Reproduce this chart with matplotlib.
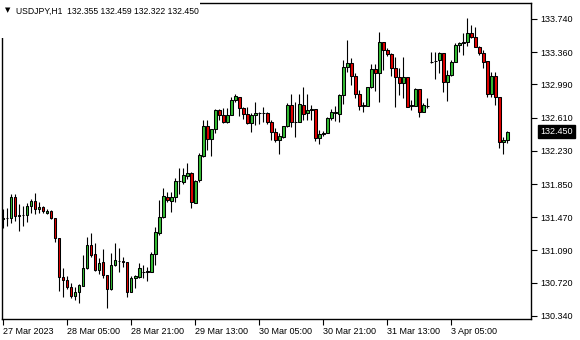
import matplotlib.pyplot as plt
import matplotlib.transforms as mtransforms
from matplotlib.patches import Rectangle
import numpy as np

# USDJPY H1 candles, 27 Mar 2023 13:00 .. 3 Apr 2023
opens = [131.455, 131.465, 131.461, 131.702, 131.490, 131.496, 131.496, 131.599, 131.656, 131.564,
         131.587, 131.519, 131.541, 131.461, 131.232, 130.786, 130.752, 130.671, 130.568, 130.614,
         130.683, 130.889, 131.152, 131.049, 130.866, 130.958, 130.809, 130.648, 130.923, 130.969,
         130.969, 130.958, 130.614, 130.774, 130.786, 130.843, 130.843, 130.843, 131.049, 131.290,
         131.473, 131.702, 131.656, 131.702, 131.885, 131.873, 131.942, 131.976, 131.633, 131.896,
         132.171, 132.514, 132.366, 132.480, 132.698, 132.640, 132.560, 132.640, 132.812, 132.847,
         132.721, 132.652, 132.549, 132.640, 132.663, 132.660, 132.663, 132.560, 132.446, 132.354,
         132.389, 132.514, 132.755, 132.560, 132.560, 132.755, 132.663, 132.698, 132.709, 132.377,
         132.423, 132.434, 132.606, 132.663, 132.652, 132.869, 133.190, 133.236, 133.087, 132.881,
         132.755, 132.744, 132.961, 133.167, 133.121, 133.476, 133.385, 133.339, 133.179, 133.075,
         133.007, 133.075, 132.744, 132.744, 132.938, 132.675, 132.744, 133.247, 133.259, 133.270,
         133.350, 133.018, 133.098, 133.247, 133.442, 133.465, 133.476, 133.579, 133.533, 133.419,
         133.350, 133.259, 132.881, 133.087, 132.847, 132.331, 132.355]
highs = [131.564, 131.576, 131.736, 131.736, 131.622, 131.599, 131.633, 131.679, 131.748, 131.645,
         131.599, 131.564, 131.553, 131.461, 131.232, 130.889, 130.797, 130.717, 130.671, 130.706,
         131.038, 131.244, 131.290, 131.175, 131.003, 131.106, 130.809, 131.061, 131.175, 131.118,
         131.015, 130.958, 130.797, 130.809, 130.946, 130.923, 130.900, 131.072, 131.358, 131.667,
         131.805, 131.759, 131.759, 131.919, 132.034, 132.034, 132.091, 131.988, 131.896, 132.205,
         132.583, 132.583, 132.480, 132.709, 132.709, 132.721, 132.721, 132.847, 132.881, 132.847,
         132.732, 132.732, 132.663, 132.789, 132.675, 132.732, 132.675, 132.583, 132.492, 132.434,
         132.514, 132.778, 132.881, 132.789, 132.881, 132.961, 132.881, 132.755, 132.709, 132.469,
         132.457, 132.618, 132.709, 132.744, 132.881, 133.270, 133.499, 133.293, 133.121, 132.927,
         132.789, 132.961, 133.224, 133.224, 133.591, 133.476, 133.407, 133.350, 133.304, 133.179,
         133.304, 133.075, 132.812, 132.950, 132.938, 132.778, 132.835, 133.362, 133.362, 133.362,
         133.350, 133.156, 133.270, 133.465, 133.476, 133.579, 133.751, 133.671, 133.648, 133.430,
         133.385, 133.259, 133.133, 133.133, 132.847, 132.389, 132.459]
lows = [131.347, 131.370, 131.404, 131.427, 131.312, 131.370, 131.416, 131.519, 131.507, 131.519,
        131.519, 131.507, 131.450, 131.187, 130.626, 130.557, 130.648, 130.546, 130.523, 130.488,
        130.683, 130.877, 131.015, 130.854, 130.820, 130.774, 130.431, 130.637, 130.912, 130.843,
        130.900, 130.557, 130.614, 130.660, 130.774, 130.774, 130.740, 130.843, 130.923, 131.267,
        131.461, 131.645, 131.530, 131.645, 131.736, 131.851, 131.908, 131.576, 131.633, 131.873,
        132.160, 132.240, 132.171, 132.434, 132.583, 132.549, 132.549, 132.640, 132.789, 132.629,
        132.595, 132.537, 132.446, 132.526, 132.537, 132.560, 132.537, 132.354, 132.331, 132.194,
        132.377, 132.503, 132.503, 132.389, 132.560, 132.583, 132.583, 132.583, 132.343, 132.309,
        132.400, 132.434, 132.583, 132.572, 132.560, 132.766, 133.133, 132.984, 132.835, 132.698,
        132.675, 132.744, 132.950, 132.915, 132.789, 133.156, 133.316, 133.087, 132.732, 132.869,
        132.835, 132.732, 132.698, 132.744, 132.618, 132.675, 132.721, 133.236, 133.053, 133.121,
        132.904, 132.801, 133.087, 133.247, 133.362, 133.327, 133.430, 133.522, 133.419, 133.327,
        133.179, 132.847, 132.847, 132.755, 132.263, 132.194, 132.322]
closes = [131.465, 131.458, 131.702, 131.484, 131.496, 131.499, 131.599, 131.656, 131.564, 131.587,
          131.541, 131.541, 131.461, 131.232, 130.786, 130.752, 130.671, 130.568, 130.614, 130.694,
          130.889, 131.152, 131.038, 130.866, 130.946, 130.809, 130.648, 130.923, 130.981, 130.972,
          130.958, 130.614, 130.774, 130.797, 130.889, 130.840, 130.854, 131.049, 131.301, 131.473,
          131.713, 131.667, 131.702, 131.885, 131.882, 131.954, 131.976, 131.645, 131.885, 132.183,
          132.514, 132.366, 132.480, 132.698, 132.640, 132.560, 132.640, 132.812, 132.858, 132.721,
          132.652, 132.549, 132.640, 132.663, 132.660, 132.663, 132.560, 132.446, 132.354, 132.400,
          132.514, 132.755, 132.560, 132.563, 132.766, 132.652, 132.698, 132.709, 132.377, 132.423,
          132.434, 132.606, 132.675, 132.675, 132.869, 133.190, 133.236, 133.087, 132.881, 132.744,
          132.744, 132.961, 133.167, 133.121, 133.476, 133.385, 133.339, 133.179, 133.075, 133.007,
          133.075, 132.732, 132.755, 132.938, 132.675, 132.755, 132.747, 133.250, 133.256, 133.350,
          133.018, 133.098, 133.247, 133.442, 133.465, 133.476, 133.579, 133.533, 133.419, 133.350,
          133.247, 132.881, 133.087, 132.847, 132.331, 132.354, 132.450]

time_ticks = [0, 16, 32, 48, 64, 80, 96, 112]
time_labels = ['27 Mar 2023', '28 Mar 05:00', '28 Mar 21:00', '29 Mar 13:00',
               '30 Mar 05:00', '30 Mar 21:00', '31 Mar 13:00', '3 Apr 05:00']
price_ticks = [130.340, 130.720, 131.090, 131.470, 131.850,
               132.230, 132.610, 132.990, 133.360, 133.740]

plt.rcParams['font.family'] = ['Liberation Sans', 'DejaVu Sans']

fig = plt.figure(figsize=(5.8, 3.4), dpi=100)
ax = fig.add_axes([2/580, 21/340, 529/580, 316/340])

x = np.arange(len(opens))
o = np.array(opens)
c = np.array(closes)
colors = np.where(c >= o, '#33bb33', '#e00000')

ax.vlines(x, lows, highs, color='black', linewidth=0.8, zorder=2)
ax.bar(x, c - o, bottom=o, width=0.58, color=colors, edgecolor='black',
       linewidth=0.75, zorder=3)

ax.set_xlim(-0.33, 131.9)
ax.set_ylim(130.305, 133.923)

ax.yaxis.tick_right()
ax.set_yticks(price_ticks)
ax.set_yticklabels(['%.3f' % p for p in price_ticks])
ax.set_xticks(time_ticks)
ax.set_xticklabels(time_labels, ha='left')
ax.tick_params(axis='y', direction='out', length=4, width=0.8, pad=3, labelsize=6.5)
ax.tick_params(axis='x', direction='out', length=4, width=0.8, pad=2, labelsize=6.5)
for s in ax.spines.values():
    s.set_linewidth(1.0)

# last price marker
trans = mtransforms.blended_transform_factory(ax.transAxes, ax.transData)
ax.text(1 + 9/529, closes[-1], '%.3f' % closes[-1], transform=trans, ha='left', va='center',
        color='white', fontsize=6.5, clip_on=False,
        bbox=dict(facecolor='black', edgecolor='black', boxstyle='square,pad=0.25'))

# header
fig.patches.append(Rectangle((0, 1 - 38/340), 200/580, 38/340, transform=fig.transFigure,
                             facecolor='white', edgecolor='none', zorder=1))
fig.text(5/580, 1 - 10/340, '▼', fontsize=5, va='center', family='DejaVu Sans', zorder=3)
fig.text(16/580, 1 - 11/340, 'USDJPY,H1  132.355 132.459 132.322 132.450',
         fontsize=6.2, va='center', zorder=3)

fig.savefig('out.png', dpi=100)
